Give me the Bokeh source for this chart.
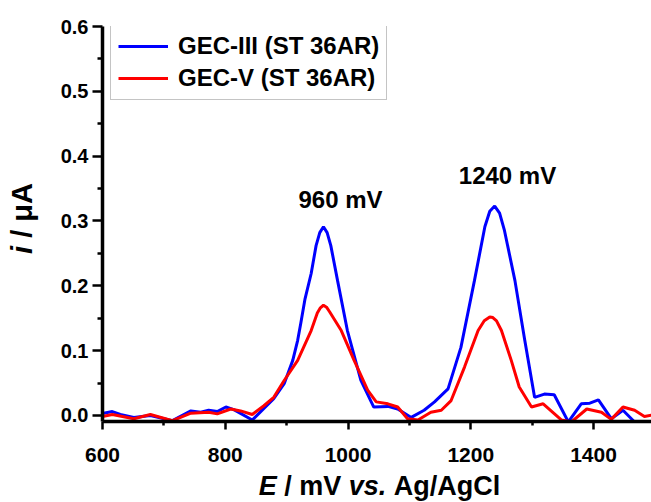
import math
from bokeh.plotting import figure
from bokeh.layouts import row, column
from bokeh.models import FixedTicker, Label, Legend, LegendItem, Range1d, PrintfTickFormatter
from bokeh.embed import file_html
from bokeh.resources import INLINE

# ---- data ----
E_blue = [600, 616, 629, 651, 678, 714, 744, 760, 773, 787, 801, 814, 844, 863, 879,
          896, 910, 918, 923, 930, 940, 948, 954, 960, 966, 972, 983, 999, 1021, 1042,
          1065, 1081, 1103, 1124, 1141, 1163, 1184, 1206, 1223, 1231, 1239, 1247,
          1255, 1272, 1288, 1304, 1320, 1336, 1359, 1380, 1394, 1408, 1429, 1448,
          1467, 1485, 1500]
i_blue = [0.003, 0.006, 0.0015, -0.003, 0.000, -0.008, 0.007, 0.005, 0.008, 0.006,
          0.013, 0.009, -0.007, 0.011, 0.026, 0.049, 0.085, 0.116, 0.142, 0.180,
          0.219, 0.262, 0.282, 0.291, 0.282, 0.262, 0.208, 0.131, 0.054, 0.013,
          0.014, 0.010, -0.003, 0.008, 0.021, 0.041, 0.105, 0.208, 0.291, 0.315,
          0.323, 0.312, 0.285, 0.208, 0.116, 0.028, 0.033, 0.032, -0.010, 0.018,
          0.019, 0.024, -0.005, 0.008, -0.010, -0.018, -0.020]

E_red = [600, 616, 651, 678, 714, 744, 773, 787, 809, 825, 844, 863, 879, 896, 918,
         940, 950, 955, 960, 965, 970, 989, 1010, 1032, 1046, 1065, 1081, 1097, 1114,
         1135, 1152, 1168, 1190, 1212, 1222, 1231, 1236, 1242, 1250, 1266, 1279,
         1299, 1318, 1348, 1364, 1389, 1413, 1429, 1448, 1467, 1483, 1500]
i_red = [-0.0015, 0.0015, -0.005, 0.0015, -0.008, 0.0035, 0.005, 0.0025, 0.010,
         0.007, 0.0015, 0.015, 0.028, 0.054, 0.085, 0.131, 0.158, 0.166, 0.170,
         0.167, 0.160, 0.131, 0.085, 0.039, 0.021, 0.018, 0.013, -0.005, -0.007,
         0.005, 0.008, 0.023, 0.075, 0.131, 0.146, 0.152, 0.151, 0.146, 0.131,
         0.085, 0.044, 0.013, 0.018, -0.007, -0.010, 0.010, 0.005, -0.006, 0.013,
         0.008, -0.0015, 0.0015]

series_names = ["GEC-III (ST 36AR)", "GEC-V (ST 36AR)"]
peak_labels = ["960 mV", "1240 mV"]
x_ticks = [600, 800, 1000, 1200, 1400]
x_minor = [700, 900, 1100, 1300, 1500]
y_ticks = [0.0, 0.1, 0.2, 0.3, 0.4, 0.5, 0.6]
y_minor = [0.05, 0.15, 0.25, 0.35, 0.45, 0.55]

# ---- geometry (page pixels) ----
W, H = 651, 502
LEFT_W = 50            # strip for the y title
MAIN_W, MAIN_H = W - LEFT_W, 470
BOT_H = H - MAIN_H     # strip for the x title
FL, FT, FR, FB = 102, 26, 651, 421   # frame edges on the page
X0, X1 = 600, 600 + (FR - FL) / 0.61375
Y0, Y1 = -0.0093, 0.6
MID = 0.35             # Label anchor sits ~0.35 em above the text baseline


def px_x(px):
    return X0 + (px - FL) * (X1 - X0) / (FR - FL)


def px_y(py):
    return Y1 - (py - FT) * (Y1 - Y0) / (FB - FT)


FONT = "Liberation Sans"
BLUE, RED = "#0000ff", "#ff0000"

p = figure(width=MAIN_W, height=MAIN_H, output_backend="svg", toolbar_location=None,
           title=None,
           x_range=Range1d(X0, X1), y_range=Range1d(Y0, Y1),
           min_border_left=FL - LEFT_W, min_border_right=W - FR, min_border_top=FT,
           min_border_bottom=MAIN_H - FB)
p.outline_line_color = None
p.xgrid.visible = False
p.ygrid.visible = False

rb = p.line(E_blue, i_blue, line_color=BLUE, line_width=3)
rr = p.line(E_red, i_red, line_color=RED, line_width=3)

legend = Legend(items=[LegendItem(label=series_names[0], renderers=[rb]),
                       LegendItem(label=series_names[1], renderers=[rr])],
                location=(8, (FB - FT) - 74), padding=7, spacing=4, margin=0,
                label_height=28, glyph_height=28, glyph_width=50,
                label_standoff=10, label_text_font=FONT,
                label_text_font_style="bold", label_text_font_size="24px",
                label_text_color="black",
                border_line_color="#8a8a8a", border_line_width=1.5,
                background_fill_alpha=1.0)
p.add_layout(legend)

xa = p.xaxis[0]
xa.ticker = FixedTicker(ticks=x_ticks, minor_ticks=x_minor)
ya = p.yaxis[0]
ya.ticker = FixedTicker(ticks=y_ticks, minor_ticks=y_minor)
ya.formatter = PrintfTickFormatter(format="%.1f")
for ax in (xa, ya):
    ax.axis_line_width = 3.5
    ax.axis_line_color = "black"
    ax.major_tick_line_width = 2.5
    ax.minor_tick_line_width = 2.5
    ax.major_tick_in = 0
    ax.minor_tick_in = 0
    ax.major_label_text_font = FONT
    ax.major_label_text_font_style = "bold"
    ax.major_label_text_color = "black"
xa.major_tick_out = 8
xa.minor_tick_out = 4
xa.major_label_standoff = 18
xa.major_label_text_font_size = "21px"
ya.major_tick_out = 10
ya.minor_tick_out = 5
ya.major_label_standoff = 4
ya.major_label_text_font_size = "20px"

ps = 24
for txt, cx, by in [(peak_labels[0], 340, 207), (peak_labels[1], 507, 183)]:
    p.add_layout(Label(x=px_x(cx), y=px_y(by - MID * ps), text=txt, text_align="center",
                       text_baseline="alphabetic", text_font=FONT,
                       text_font_style="bold", text_font_size=f"{ps}px",
                       text_color="black"))

# ---- x title strip (same left/right borders as the main plot; ranges in page px) ----
bx = figure(width=MAIN_W, height=BOT_H, output_backend="svg", toolbar_location=None,
            title=None,
            x_range=Range1d(FL, FR), y_range=Range1d(0, H - MAIN_H),
            x_axis_type=None, y_axis_type=None,
            min_border_left=FL - LEFT_W, min_border_right=W - FR,
            min_border_top=0, min_border_bottom=0)
bx.outline_line_color = None
xs = 27
x_start = 379 - 8.947 * xs / 2
x_base = 495 - MID * xs
for txt, off, style in [("E", 0.0, "bold italic"), ("/ mV", 0.945, "bold"),
                        ("vs.", 3.335, "bold italic"), ("Ag/AgCl", 5.003, "bold")]:
    bx.add_layout(Label(x=x_start + off * xs, y=H - x_base, text=txt,
                        text_align="left", text_baseline="alphabetic", text_font=FONT,
                        text_font_style=style, text_font_size=f"{xs}px",
                        text_color="black"))

# ---- y title strip (same top/bottom borders as the plot column; ranges in page px) ----
ly = figure(width=LEFT_W, height=H, output_backend="svg", toolbar_location=None,
            title=None,
            x_range=Range1d(0, LEFT_W), y_range=Range1d(H - FB, H - FT),
            x_axis_type=None, y_axis_type=None,
            min_border_left=0, min_border_right=0,
            min_border_top=FT, min_border_bottom=H - FB)
ly.outline_line_color = None
ys = 29
y_start = 218 + 2.445 * ys / 2
y_base = 32 - MID * ys
for txt, off, style in [("i", 0.0, "bold italic"), ("/ \u03bcA", 0.556, "bold")]:
    ly.add_layout(Label(x=y_base, y=H - (y_start - off * ys), text=txt,
                        angle=math.pi / 2, text_align="left",
                        text_baseline="alphabetic", text_font=FONT,
                        text_font_style=style, text_font_size=f"{ys}px",
                        text_color="black"))

layout = row(ly, column(p, bx, spacing=0), spacing=0)
open("out.html", "w").write(file_html(layout, INLINE))
